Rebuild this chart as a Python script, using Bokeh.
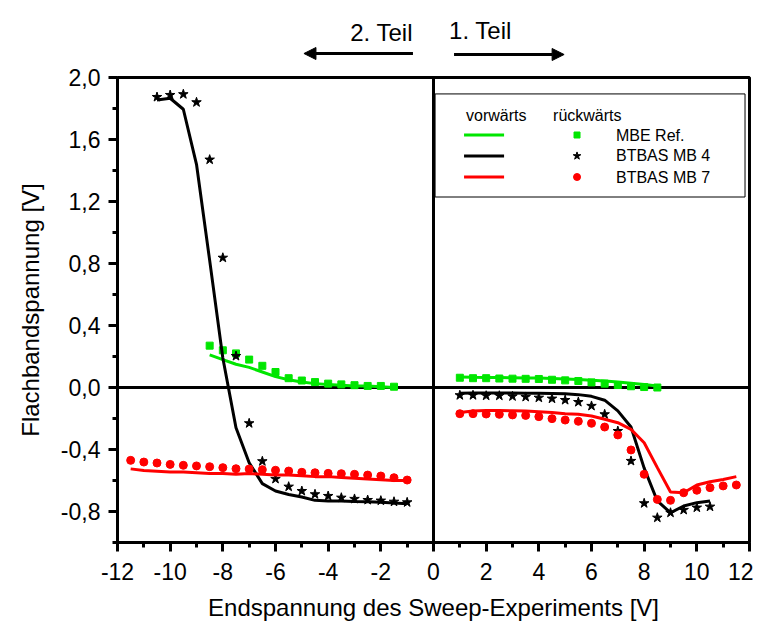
from bokeh.plotting import figure
from bokeh.layouts import column
from bokeh.models import Range1d, FixedTicker, CustomJSTickFormatter, Span, Arrow, NormalHead
from bokeh.core.properties import value
from bokeh.embed import file_html
from bokeh.resources import INLINE

# ---------------- data ----------------
x_ticks = [-12, -10, -8, -6, -4, -2, 0, 2, 4, 6, 8, 10, 12]
x_minor = [-11, -9, -7, -5, -3, -1, 1, 3, 5, 7, 9, 11]
y_ticks = [-0.8, -0.4, 0.0, 0.4, 0.8, 1.2, 1.6, 2.0]
y_minor = [-1.0, -0.6, -0.2, 0.2, 0.6, 1.0, 1.4, 1.8]

# MBE Ref.
mbe_left_x = [-8.5, -8.0, -7.5, -7.0, -6.5, -6.0, -5.5, -5.0, -4.5, -4.0, -3.5, -3.0, -2.5, -2.0, -1.5]
mbe_fwd_left = [0.21, 0.18, 0.15, 0.13, 0.10, 0.07, 0.05, 0.035, 0.025, 0.02, 0.015, 0.01, 0.01, 0.005, 0.0]
mbe_rev_left = [0.27, 0.24, 0.22, 0.18, 0.14, 0.10, 0.06, 0.045, 0.035, 0.025, 0.02, 0.015, 0.01, 0.01, 0.005]
mbe_right_x = [1.0, 1.5, 2.0, 2.5, 3.0, 3.5, 4.0, 4.5, 5.0, 5.5, 6.0, 6.5, 7.0, 7.5, 8.0, 8.5]
mbe_fwd_right = [0.068, 0.066, 0.065, 0.064, 0.063, 0.062, 0.061, 0.058, 0.055, 0.052, 0.047, 0.042, 0.035, 0.028, 0.02, 0.01]
mbe_rev_right = [0.063, 0.06, 0.06, 0.058, 0.057, 0.056, 0.055, 0.05, 0.046, 0.042, 0.033, 0.025, 0.016, 0.008, 0.003, 0.0]

# BTBAS MB 4
mb4_left_x = [-10.5, -10.0, -9.5, -9.0, -8.5, -8.0, -7.5, -7.0, -6.5, -6.0, -5.5, -5.0, -4.5, -4.0, -3.5, -3.0, -2.5, -2.0, -1.5, -1.0]
mb4_fwd_left = [1.855, 1.866, 1.795, 1.44, 0.82, 0.19, -0.26, -0.485, -0.62, -0.668, -0.69, -0.706, -0.728, -0.732, -0.732, -0.735, -0.737, -0.741, -0.745, -0.75]
mb4_rev_left = [1.874, 1.887, 1.892, 1.84, 1.47, 0.837, 0.203, -0.231, -0.476, -0.59, -0.64, -0.668, -0.689, -0.70, -0.711, -0.719, -0.726, -0.73, -0.737, -0.741]
mb4_right_x = [1.0, 1.5, 2.0, 2.5, 3.0, 3.5, 4.0, 4.5, 5.0, 5.5, 6.0, 6.5, 7.0, 7.5, 8.0, 8.5, 9.0, 9.5, 10.0, 10.5]
mb4_fwd_right = [-0.037, -0.035, -0.035, -0.035, -0.035, -0.037, -0.037, -0.039, -0.041, -0.046, -0.057, -0.082, -0.151, -0.255, -0.52, -0.732, -0.808, -0.765, -0.743, -0.732]
mb4_rev_right = [-0.050, -0.050, -0.053, -0.053, -0.057, -0.061, -0.066, -0.072, -0.081, -0.094, -0.119, -0.173, -0.281, -0.474, -0.747, -0.840, -0.808, -0.79, -0.775, -0.769]

# BTBAS MB 7
mb7_left_x = [-11.5, -11.0, -10.5, -10.0, -9.5, -9.0, -8.5, -8.0, -7.5, -7.0, -6.5, -6.0, -5.5, -5.0, -4.5, -4.0, -3.5, -3.0, -2.5, -2.0, -1.5, -1.0]
mb7_fwd_left = [-0.525, -0.535, -0.54, -0.545, -0.545, -0.55, -0.555, -0.555, -0.56, -0.555, -0.56, -0.565, -0.565, -0.57, -0.575, -0.575, -0.58, -0.585, -0.59, -0.595, -0.60, -0.60]
mb7_rev_left = [-0.47, -0.481, -0.487, -0.496, -0.502, -0.506, -0.511, -0.517, -0.524, -0.526, -0.530, -0.534, -0.539, -0.547, -0.550, -0.554, -0.556, -0.560, -0.565, -0.571, -0.582, -0.597]
mb7_right_x = [1.0, 1.5, 2.0, 2.5, 3.0, 3.5, 4.0, 4.5, 5.0, 5.5, 6.0, 6.5, 7.0, 7.5, 8.0, 8.5, 9.0, 9.5, 10.0, 10.5, 11.0, 11.5]
mb7_fwd_right = [-0.162, -0.152, -0.148, -0.148, -0.150, -0.152, -0.157, -0.162, -0.169, -0.173, -0.184, -0.205, -0.227, -0.270, -0.356, -0.517, -0.674, -0.679, -0.629, -0.608, -0.593, -0.575]
mb7_rev_right = [-0.169, -0.169, -0.171, -0.173, -0.177, -0.180, -0.188, -0.201, -0.210, -0.218, -0.231, -0.255, -0.306, -0.403, -0.56, -0.722, -0.728, -0.679, -0.663, -0.646, -0.635, -0.629]

series_names = ["MBE Ref.", "BTBAS MB 4", "BTBAS MB 7"]
header_fwd = "vorwärts"
header_rev = "rückwärts"
part_labels = ["2. Teil", "1. Teil"]

# ---------------- style / layout ----------------
FONT = "Liberation Sans"
GREEN = "#00e600"
BLACK = "#000000"
RED = "#ff0000"
W = 753
BL, BR = 117, 4
TOP_H = 62

xr = Range1d(-12, 12)

# ---- strip above the plot: part labels and arrows ----
top = figure(width=W, height=TOP_H, x_range=xr, y_range=Range1d(0, TOP_H),
             output_backend="svg", toolbar_location=None,
             x_axis_location=None, y_axis_location=None,
             min_border_left=BL, min_border_right=BR, min_border_top=0, min_border_bottom=0)
top.grid.visible = False
top.outline_line_color = None
top.text(x=[-0.78], y=[30], text=[part_labels[0]], text_font=value(FONT),
         text_font_size=value("24px"), text_color="black", text_align="right", text_baseline="alphabetic")
top.text(x=[0.59], y=[32], text=[part_labels[1]], text_font=value(FONT),
         text_font_size=value("24px"), text_color="black", text_align="left", text_baseline="alphabetic")
top.add_layout(Arrow(end=NormalHead(size=12, fill_color="black", line_color="black", line_width=1),
                     x_start=-0.78, y_start=9, x_end=-4.92, y_end=9,
                     line_color="black", line_width=3))
top.add_layout(Arrow(end=NormalHead(size=12, fill_color="black", line_color="black", line_width=1),
                     x_start=0.78, y_start=8, x_end=4.96, y_end=8,
                     line_color="black", line_width=3))

# ---- main plot ----
p = figure(width=W, height=563, x_range=xr, y_range=Range1d(-1, 2),
           output_backend="svg", toolbar_location=None,
           min_border_left=BL, min_border_right=BR, min_border_top=15, min_border_bottom=83)
p.grid.visible = False
p.outline_line_color = "black"
p.outline_line_width = 3

p.xaxis.ticker = FixedTicker(ticks=x_ticks, minor_ticks=x_minor)
p.yaxis.ticker = FixedTicker(ticks=y_ticks, minor_ticks=y_minor)
p.xaxis.formatter = CustomJSTickFormatter(code="return Math.round(tick).toString();")
p.yaxis.formatter = CustomJSTickFormatter(code="""
    if (Math.abs(tick) < 1e-9) { return '0,0'; }
    return tick.toFixed(1).replace('.', ',');
""")
for ax in (p.xaxis, p.yaxis):
    ax.axis_line_width = 3
    ax.major_tick_line_width = 3
    ax.minor_tick_line_width = 3
    ax.major_tick_in = 0
    ax.major_tick_out = 9
    ax.minor_tick_in = 0
    ax.minor_tick_out = 5
    ax.major_label_text_font = FONT
    ax.major_label_text_font_size = "23px"
    ax.major_label_text_color = "black"
    ax.axis_label_text_font = FONT
    ax.axis_label_text_font_size = "24px"
    ax.axis_label_text_font_style = "normal"
    ax.axis_label_text_color = "black"
p.xaxis.axis_label = "Endspannung des Sweep-Experiments [V]"
p.yaxis.axis_label = "Flachbandspannung [V]"
p.xaxis.major_label_standoff = 11
p.xaxis.axis_label_standoff = 11
p.yaxis.major_label_standoff = 8
p.yaxis.axis_label_standoff = 14

# zero lines
p.add_layout(Span(location=0, dimension="width", line_color="black", line_width=3, level="underlay"))
p.add_layout(Span(location=0, dimension="height", line_color="black", line_width=3, level="underlay"))

LW = 3
# MBE
p.line(mbe_left_x, mbe_fwd_left, line_color=GREEN, line_width=LW)
p.line(mbe_right_x, mbe_fwd_right, line_color=GREEN, line_width=LW)
p.scatter(mbe_left_x, mbe_rev_left, marker="square", size=7, color=GREEN)
p.scatter(mbe_right_x, mbe_rev_right, marker="square", size=7, color=GREEN)
# MB4
p.line(mb4_left_x, mb4_fwd_left, line_color=BLACK, line_width=LW)
p.line(mb4_right_x, mb4_fwd_right, line_color=BLACK, line_width=LW)
p.scatter(mb4_left_x, mb4_rev_left, marker="star", size=10, color=BLACK)
p.scatter(mb4_right_x, mb4_rev_right, marker="star", size=10, color=BLACK)
# MB7
p.line(mb7_left_x, mb7_fwd_left, line_color=RED, line_width=LW)
p.line(mb7_right_x, mb7_fwd_right, line_color=RED, line_width=LW)
p.scatter(mb7_left_x, mb7_rev_left, marker="circle", size=8, color=RED)
p.scatter(mb7_right_x, mb7_rev_right, marker="circle", size=8, color=RED)

# legend (manual layout)
p.quad(left=[0.06], right=[11.83], bottom=[1.229], top=[1.894],
       fill_color="white", line_color="black", line_width=1)
p.text(x=[1.235, 4.54], y=[1.755, 1.755], text=[header_fwd, header_rev],
       text_font=value(FONT), text_font_size=value("16px"), text_color="black",
       text_align="left", text_baseline="middle")
leg_y = [1.629, 1.494, 1.358]
colors = [GREEN, BLACK, RED]
markers = ["square", "star", "circle"]
msizes = [6, 8, 7]
for yy, c, m, s in zip(leg_y, colors, markers, msizes):
    p.line([1.16, 2.68], [yy, yy], line_color=c, line_width=LW)
    p.scatter([5.45], [yy], marker=m, size=s, color=c)
p.text(x=[6.93] * 3, y=leg_y, text=series_names,
       text_font=value(FONT), text_font_size=value("16px"), text_color="black",
       text_align="left", text_baseline="middle")

layout = column(top, p, spacing=0)
open("out.html", "w").write(file_html(layout, INLINE))
